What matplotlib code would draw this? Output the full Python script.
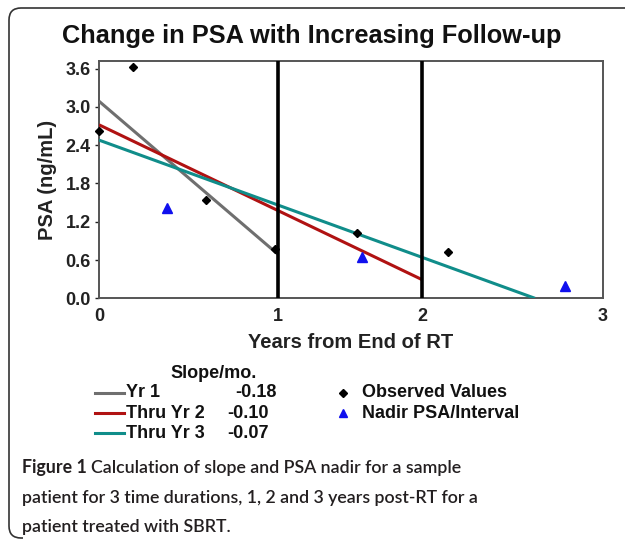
import matplotlib
matplotlib.use("Agg")
import matplotlib.pyplot as plt
from matplotlib.lines import Line2D
from matplotlib.patches import PathPatch
from matplotlib.path import Path
import numpy as np

# observed PSA values (years, ng/mL)
obs_x = [0.0, 0.204, 0.635, 1.048, 1.534, 2.076]
obs_y = [2.63, 3.62, 1.54, 0.78, 1.03, 0.726]

# nadir PSA per interval
nadir_x = [0.407, 1.567, 2.774]
nadir_y = [1.42, 0.64, 0.19]

# interval boundaries (end of yr 1, end of yr 2)
bounds = [1.065, 1.925]

# fitted lines: start / end points
fit_names = ["Yr 1", "Thru Yr 2", "Thru Yr 3"]
fit_slopes = ["-0.18", "-0.10", "-0.07"]
fit_x = [[0, 1.065], [0, 1.925], [0, 2.595]]
fit_y = [[3.09, 0.69], [2.72, 0.29], [2.48, 0.0]]
fit_colors = ["#6f6f6f", "#b01212", "#108d8a"]

yticks = [0.0, 0.6, 1.2, 1.8, 2.4, 3.0, 3.6]

W, H = 625, 540
fig = plt.figure(figsize=(W / 100, H / 100), dpi=100)
fig.patch.set_facecolor("white")

def fx(px):
    return px / W

def fy(py):
    return 1 - py / H

ax = fig.add_axes([fx(99), fy(298.3), fx(603) - fx(99), fy(61) - fy(298.3)])
arial = "Liberation Sans"

for xs, ys, c in zip(fit_x, fit_y, fit_colors):
    ax.plot(xs, ys, color=c, lw=2.2, solid_capstyle="butt", zorder=3)
for b in bounds:
    ax.axvline(b, color="black", lw=2.6, zorder=4)
ax.plot(obs_x, obs_y, ls="none", marker="D", ms=4, color="black", zorder=5, clip_on=False)
ax.plot(nadir_x, nadir_y, ls="none", marker="^", ms=6.5, color="#1010ee", zorder=5)

ax.set_xlim(0, 3)
ax.set_ylim(0, 3.72)
ax.set_xticks([0] + bounds + [3])
ax.set_xticklabels(["0", "1", "2", "3"])
ax.set_yticks(yticks)
ax.set_yticklabels([f"{v:.1f}" for v in yticks])
ax.tick_params(axis="both", direction="in", length=0, labelsize=13, pad=6,
               colors="#222222")
ax.tick_params(axis="y", direction="out", length=3, width=1, pad=3)
ax.tick_params(axis="x", pad=7)
for lab in ax.get_xticklabels() + ax.get_yticklabels():
    lab.set_fontweight("bold")
    lab.set_fontfamily(arial)
for s in ax.spines.values():
    s.set_color("#555555")
    s.set_linewidth(1.4)

ax.set_ylabel("PSA (ng/mL)", fontsize=14.5, fontweight="bold", family=arial,
              color="#222222", labelpad=6)
fig.text(fx(351), fy(343), "Years from End of RT", fontsize=14.5, fontweight="bold",
         family=arial, color="#222222", ha="center", va="center")
fig.text(fx(312), fy(36), "Change in PSA with Increasing Follow-up", fontsize=18.3,
         fontweight="bold", family=arial, color="#111111", ha="center", va="center")

# legend
fig.text(fx(214), fy(373), "Slope/mo.", fontsize=13, fontweight="bold",
         family=arial, ha="center", va="center", color="#111111")
rows = [392.7, 413.0, 433.0]
val_x = [235.7, 227, 227]
for i in range(3):
    fig.add_artist(Line2D([fx(95), fx(124)], [fy(rows[i])] * 2, color=fit_colors[i], lw=2.2))
    fig.text(fx(126), fy(rows[i]), fit_names[i], fontsize=13, fontweight="bold",
             family=arial, va="center", color="#111111")
    fig.text(fx(val_x[i]), fy(rows[i]), fit_slopes[i], fontsize=13, fontweight="bold",
             family=arial, va="center", color="#111111")
fig.add_artist(Line2D([fx(342.7)], [fy(rows[0])], marker="D", ms=4, color="black", ls="none"))
fig.add_artist(Line2D([fx(342.7)], [fy(rows[1])], marker="^", ms=6, color="#1010ee", ls="none"))
fig.text(fx(361.5), fy(rows[0]), "Observed Values", fontsize=13, fontweight="bold",
         family=arial, va="center", color="#111111")
fig.text(fx(361.5), fy(rows[1]), "Nadir PSA/Interval", fontsize=13, fontweight="bold",
         family=arial, va="center", color="#111111")

# caption
cap_col = "#231f20"
cap_font = "Lato"
cap_size = 12.8
renderer = fig.canvas.get_renderer()
t0 = fig.text(fx(22), fy(468), "Figure 1", fontsize=cap_size, fontweight="bold",
              family=cap_font, va="center", color=cap_col)
bb = t0.get_window_extent(renderer)
fig.text(fx(bb.x1 + 4), fy(468), "Calculation of slope and PSA nadir for a sample",
         fontsize=cap_size, fontweight=600, family=cap_font, va="center", color=cap_col)
fig.text(fx(22), fy(497.5), "patient for 3 time durations, 1, 2 and 3 years post-RT for a",
         fontsize=cap_size, fontweight=600, family=cap_font, va="center", color=cap_col)
fig.text(fx(22), fy(527), "patient treated with SBRT.",
         fontsize=cap_size, fontweight=600, family=cap_font, va="center", color=cap_col)

# rounded frame on top/left
r = 12
verts = [(W, 8), (9 + r, 8), (9, 8), (9, 8 + r), (9, 538 - r), (9, 538), (9 + r, 538), (9 + r + 2, 538)]
codes = [Path.MOVETO, Path.LINETO, Path.CURVE3, Path.CURVE3, Path.LINETO,
         Path.CURVE3, Path.CURVE3, Path.LINETO]
frame = Path([(fx(a), fy(b)) for a, b in verts], codes)
fig.add_artist(PathPatch(frame, transform=fig.transFigure, fill=False,
                         edgecolor="#333333", lw=1.2))

fig.savefig("out.png", dpi=100)
